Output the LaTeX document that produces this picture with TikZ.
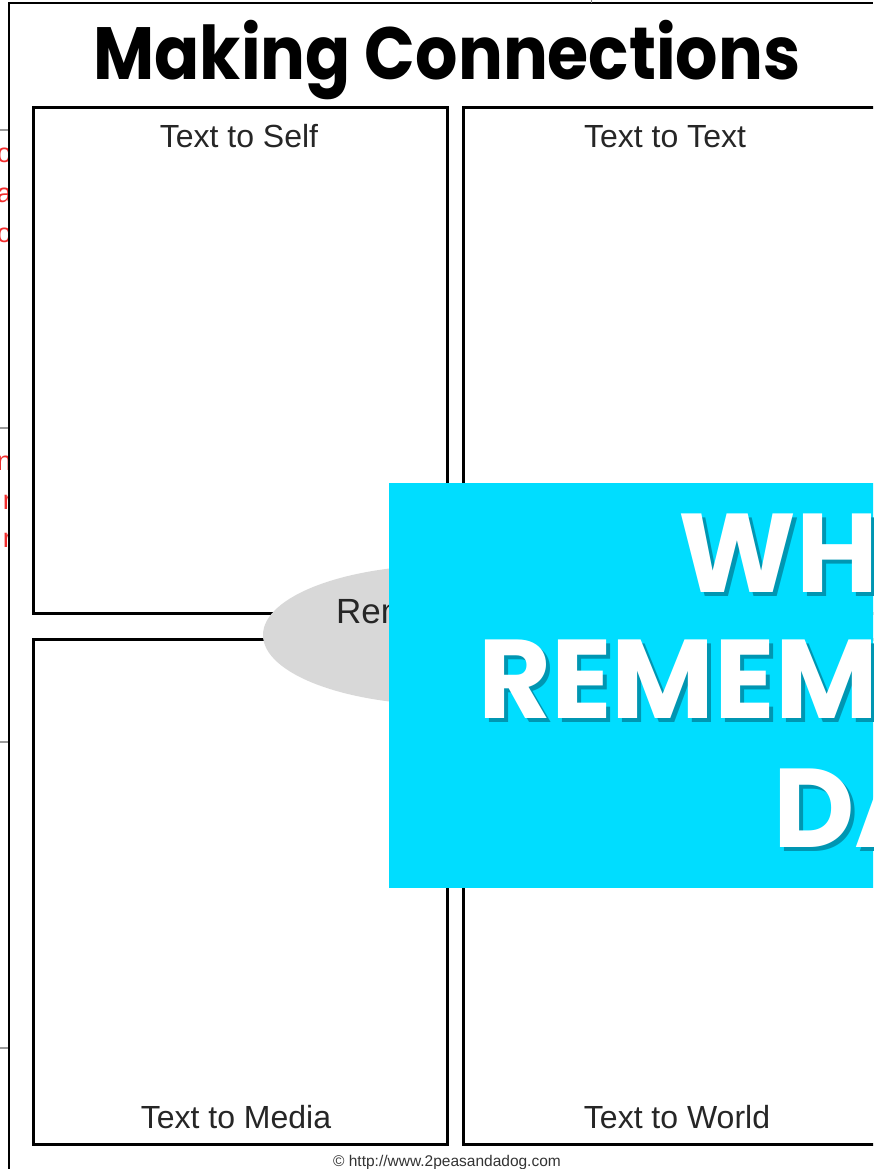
\documentclass[tikz,border=0pt]{standalone}
\usepackage{fontspec}
\setmainfont{Liberation Sans}
\newfontfamily\headfont{Poppins}
\usetikzlibrary{positioning,shapes.geometric}
\definecolor{BannerCyan}{RGB}{0,221,255}
\definecolor{BannerShade}{RGB}{0,150,178}
\definecolor{BubbleGray}{RGB}{216,216,216}
\definecolor{MarginRed}{RGB}{240,45,45}
\tikzset{
  panel/.style={draw=black,line width=3pt,anchor=north west,inner sep=0pt,
    minimum width=414pt,minimum height=505pt},
  tag/.style={anchor=base,inner sep=0pt,text=black!85,
    font=\fontsize{32}{32}\selectfont},
  heading/.style={anchor=base,inner sep=0pt,
    font=\headfont\bfseries\fontsize{74}{74}\selectfont},
  bubble/.style={ellipse,fill=BubbleGray,inner sep=0pt,
    minimum width=368pt,minimum height=140pt},
  banner/.style={fill=BannerCyan,anchor=north west,inner sep=0pt,
    minimum width=500pt,minimum height=405pt},
  bannertext/.style={anchor=base west,inner sep=0pt,text=white,
    font=\headfont\bfseries\fontsize{112}{112}\selectfont},
  bannershade/.style={bannertext,text=BannerShade},
  margintext/.style={anchor=east,inner sep=0pt,text=MarginRed,
    font=\fontsize{27}{27}\selectfont},
  marginrule/.style={draw=black!40,line width=2pt}
}

\begin{document}
\begin{tikzpicture}[x=1pt,y=-1pt]
\useasboundingbox (0,0) rectangle (873,1169);
\clip (0,0) rectangle (873,1169);

% page behind, left margin
\foreach \yy in {130,428,742,1048}
  \draw[marginrule] (0,\yy) -- (8,\yy);
\begin{scope}
  \clip (0,0) rectangle (7,1169);
  \node[margintext] (m1) at (12,155) {o};
  \node[margintext] (m2) at (12,195) {a};
  \node[margintext] (m3) at (12,235) {o};
  \node[margintext] (m4) at (12,463) {n};
  \node[margintext] (m5) at (12,502) {r};
  \node[margintext] (m6) at (12,540) {r};
\end{scope}
\draw[line width=2pt] (8.5,1169) -- (8.5,3.5) -- (873,3.5);
\draw[black!50,line width=0.8pt] (591,0) -- (591,3);

% title
\node[heading] (title) at (447,80) {\scalebox{0.9}[1]{Making Connections}};

% four panels
\node[panel] (self) at (32,106.5) {};
\node[panel,minimum width=420pt] (text) at (461.5,106.5) {};
\node[panel] (media) at (32,637.5) {};
\node[panel,minimum width=420pt] (world) at (461.5,637.5) {};

\node[tag] (lself) at (239,148) {Text to Self};
\node[tag] (ltext) at (665,148) {Text to Text};
\node[tag] (lmedia) at (236,1128) {Text to Media};
\node[tag] (lworld) at (677,1128) {Text to World};

% centre bubble
\node[bubble] (remember) at (447,635) {};
\node[anchor=base west,inner sep=0pt,text=black!85,
  font=\fontsize{35}{35}\selectfont] (lremember) at (336,623) {Remembrance};

% banner on top
\node[banner] (overlay) at (388.5,482.5) {};
\node[bannershade] (s1) at (682,596) {WHAT};
\node[bannertext] (w1) at (678,592) {WHAT};
\node[bannershade] (s2) at (482,722) {REMEMBER};
\node[bannertext] (w2) at (478,718) {REMEMBER};
\node[bannershade] (s3) at (777,851) {DAY};
\node[bannertext] (w3) at (773,847) {DAY};

% footer
\node[anchor=base,inner sep=0pt,text=black!80,
  font=\fontsize{15.5}{15.5}\selectfont] (credit) at (447,1166)
  {© http://www.2peasandadog.com};
\end{tikzpicture}
\end{document}
